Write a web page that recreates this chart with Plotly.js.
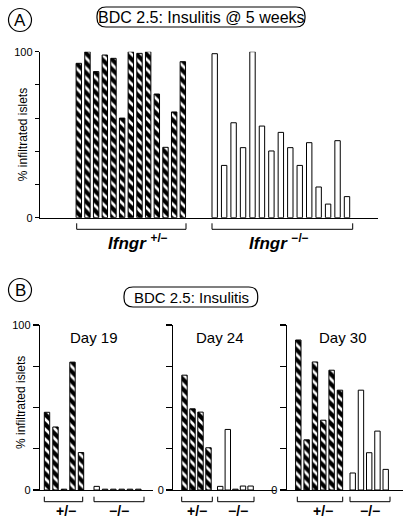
<!DOCTYPE html>
<html>
<head>
<meta charset="utf-8">
<script src="https://cdn.plot.ly/plotly-3.0.1.min.js"></script>
<style>html,body{margin:0;padding:0;background:#fff;}#chart{width:409px;height:523px;}</style>
</head>
<body>
<div id="chart"></div>
<script>
// ---------- DATA (% infiltrated islets) ----------
const panelATitle = "BDC 2.5: Insulitis @ 5 weeks";
const panelBTitle = "BDC 2.5: Insulitis";
const yAxisLabel = "% infiltrated islets";
const panelA_het = [93, 100, 88, 98, 96, 60, 100, 99, 100, 74.5, 42.4, 63.7, 94];
const panelA_ko  = [98.8, 31.5, 57.2, 42.2, 100, 55.2, 40.2, 51.4, 42.2, 31.5, 45.2, 18.5, 8.2, 46.4, 12.7];
const dayLabels = ["Day 19", "Day 24", "Day 30"];
const day19_het = [47.1, 38.2, 0.5, 77.5, 22.7];
const day19_ko  = [2.2, 0.5, 0.5, 0.5, 0.5, 0.5];
const day24_het = [69.6, 49.2, 47.2, 25.6];
const day24_ko  = [2.2, 36.7, 0.5, 2.4, 2.4];
const day30_het = [90.9, 30.4, 77.6, 42.3, 72.6, 60.5];
const day30_ko  = [10.3, 60.5, 22.6, 35.7, 12.5];
const genoA = ["+/\u2212", "\u2212/\u2212"];
const genoB = ["+/\u2212", "\u2212/\u2212"];
const ticksA = [0, 20, 40, 60, 80, 100];
const ticksB = [0, 25, 50, 75, 100];

// ---------- GEOMETRY / STYLE ----------
const W = 409, H = 523;
const FONT = "Liberation Sans, Arial, Helvetica, sans-serif";
const px = v => v / W;
const py = v => 1 - v / H;

const hatch = {shape: "\\", bgcolor: "black", fgcolor: "white", size: 7, solidity: 0.38, fillmode: "replace"};
function barTrace(vals, start, step, xa, ya, hatched) {
  return {
    type: "bar",
    x: vals.map((_, i) => start + i * step),
    y: vals,
    width: 5.4,
    xaxis: xa, yaxis: ya,
    marker: hatched
      ? {color: "black", pattern: hatch, line: {color: "black", width: 1}}
      : {color: "white", line: {color: "black", width: 1}},
    hoverinfo: "skip", showlegend: false
  };
}

// subplot pixel boxes [xLeft, xRight, yZero, yTop]
const boxA  = [40, 378, 217.7, 51.7];
const boxB1 = [40, 153, 490, 325];
const boxB2 = [173.3, 276, 490, 325];
const boxB3 = [286.7, 403, 490, 325];

const traces = [
  barTrace(panelA_het, 78.8, 8.67, "x", "y", true),
  barTrace(panelA_ko, 214.7, 9.45, "x", "y", false),
  barTrace(day19_het, 47.0, 8.5, "x2", "y2", true),
  barTrace(day19_ko, 96.7, 8.33, "x2", "y2", false),
  barTrace(day24_het, 184.5, 8.0, "x3", "y3", true),
  barTrace(day24_ko, 220.2, 7.6, "x3", "y3", false),
  barTrace(day30_het, 298.3, 8.33, "x4", "y4", true),
  barTrace(day30_ko, 352.7, 8.25, "x4", "y4", false)
];

function xaxisFor(box, anchor) {
  return {domain: [px(box[0]), px(box[1])], range: [box[0], box[1]], anchor: anchor, showline: true, linecolor: "black",
          linewidth: 1.2, showgrid: false, zeroline: false, showticklabels: false, ticks: "", fixedrange: true};
}
function yaxisFor(box, anchor, ticks, labelled, tl) {
  return {domain: [py(box[2]), py(box[3])], range: [0, 100], anchor: anchor, showline: true, linecolor: "black",
          linewidth: 1.2, showgrid: false, zeroline: false, ticks: "outside", ticklen: tl, tickwidth: 1.1,
          tickcolor: "black", tickmode: "array", tickvals: labelled, ticktext: labelled.map(String),
          tickfont: {family: FONT, size: 11, color: "black"},
          minor: {tickmode: "array", tickvals: ticks.filter(v => labelled.indexOf(v) < 0), ticks: "outside",
                  ticklen: tl, tickwidth: 1.1, tickcolor: "black", showgrid: false},
          fixedrange: true};
}

function roundRect(x0, y0, x1, y1, r) {
  const P = (x, y) => px(x).toFixed(5) + "," + py(y).toFixed(5);
  return "M" + P(x0 + r, y0) + " L" + P(x1 - r, y0) + " Q" + P(x1, y0) + " " + P(x1, y0 + r) +
         " L" + P(x1, y1 - r) + " Q" + P(x1, y1) + " " + P(x1 - r, y1) +
         " L" + P(x0 + r, y1) + " Q" + P(x0, y1) + " " + P(x0, y1 - r) +
         " L" + P(x0, y0 + r) + " Q" + P(x0, y0) + " " + P(x0 + r, y0) + " Z";
}
function bracket(x0, x1, yb, ytop) {
  const P = (x, y) => px(x).toFixed(5) + "," + py(y).toFixed(5);
  return {type: "path", xref: "paper", yref: "paper", path: "M" + P(x0, ytop) + " L" + P(x0, yb) + " L" + P(x1, yb) + " L" + P(x1, ytop),
          line: {color: "black", width: 1}};
}
function circle(cx, cy, r) {
  return {type: "circle", xref: "paper", yref: "paper", x0: px(cx - r), x1: px(cx + r), y0: py(cy + r), y1: py(cy - r),
          line: {color: "black", width: 1.2}};
}
function txt(x, y, text, size, extra) {
  return Object.assign({xref: "paper", yref: "paper", x: px(x), y: py(y), text: text, showarrow: false,
          xanchor: "center", yanchor: "middle", font: {family: FONT, size: size, color: "black"}}, extra || {});
}

const shapes = [
  circle(20, 20, 11.5),
  {type: "path", xref: "paper", yref: "paper", path: roundRect(97, 7, 305, 27, 9), line: {color: "black", width: 1.2}},
  bracket(76.7, 186, 229.3, 223.3),
  bracket(212, 352.7, 229.3, 223.3),
  circle(20, 290, 11.5),
  {type: "path", xref: "paper", yref: "paper", path: roundRect(124, 287, 257.7, 307, 9), line: {color: "black", width: 1.2}},
  bracket(44.3, 82.7, 501.7, 496.7),
  bracket(94, 144, 501.7, 496.7),
  bracket(181.7, 212.3, 501.7, 496.7),
  bracket(217.7, 254, 501.7, 496.7),
  bracket(297.3, 342.7, 501.7, 496.7),
  bracket(350, 390, 501.7, 496.7)
];

const genoLabel = g => "<b><i>Ifngr</i></b> <sup><b>" + g + "</b></sup>";
const annotations = [
  txt(20, 20.5, "A", 17),
  txt(201, 17, panelATitle, 16),
  txt(22.5, 134.7, yAxisLabel, 12, {textangle: -90}),
  txt(138, 242, genoLabel(genoA[0]), 17),
  txt(279, 242, genoLabel(genoA[1]), 17),
  txt(20, 290.5, "B", 17),
  txt(191, 297, panelBTitle, 15),
  txt(21, 403, yAxisLabel, 12, {textangle: -90}),
  txt(94, 337, dayLabels[0], 15),
  txt(220, 337, dayLabels[1], 15),
  txt(343, 337, dayLabels[2], 15),
  txt(65.7, 511, "<b>" + genoB[0] + "</b>", 14),
  txt(118.7, 511, "<b>" + genoB[1] + "</b>", 14),
  txt(196.7, 511, "<b>" + genoB[0] + "</b>", 14),
  txt(237.7, 511, "<b>" + genoB[1] + "</b>", 14),
  txt(323.3, 511, "<b>" + genoB[0] + "</b>", 14),
  txt(370, 511, "<b>" + genoB[1] + "</b>", 14)
];

const layout = {
  width: W, height: H,
  margin: {l: 0, r: 0, t: 0, b: 0},
  paper_bgcolor: "white", plot_bgcolor: "white",
  font: {family: FONT, color: "black"},
  bargap: 0,
  showlegend: false,
  xaxis: xaxisFor(boxA, "y"),
  yaxis: yaxisFor(boxA, "x", ticksA, [0, 100], 4),
  xaxis2: xaxisFor(boxB1, "y2"),
  yaxis2: yaxisFor(boxB1, "x2", ticksB, [0, 100], 6),
  xaxis3: xaxisFor(boxB2, "y3"),
  yaxis3: yaxisFor(boxB2, "x3", ticksB, [0], 6),
  xaxis4: xaxisFor(boxB3, "y4"),
  yaxis4: yaxisFor(boxB3, "x4", ticksB, [0], 6),
  shapes: shapes,
  annotations: annotations
};

Plotly.newPlot("chart", traces, layout, {staticPlot: true, displayModeBar: false});
</script>
</body>
</html>
